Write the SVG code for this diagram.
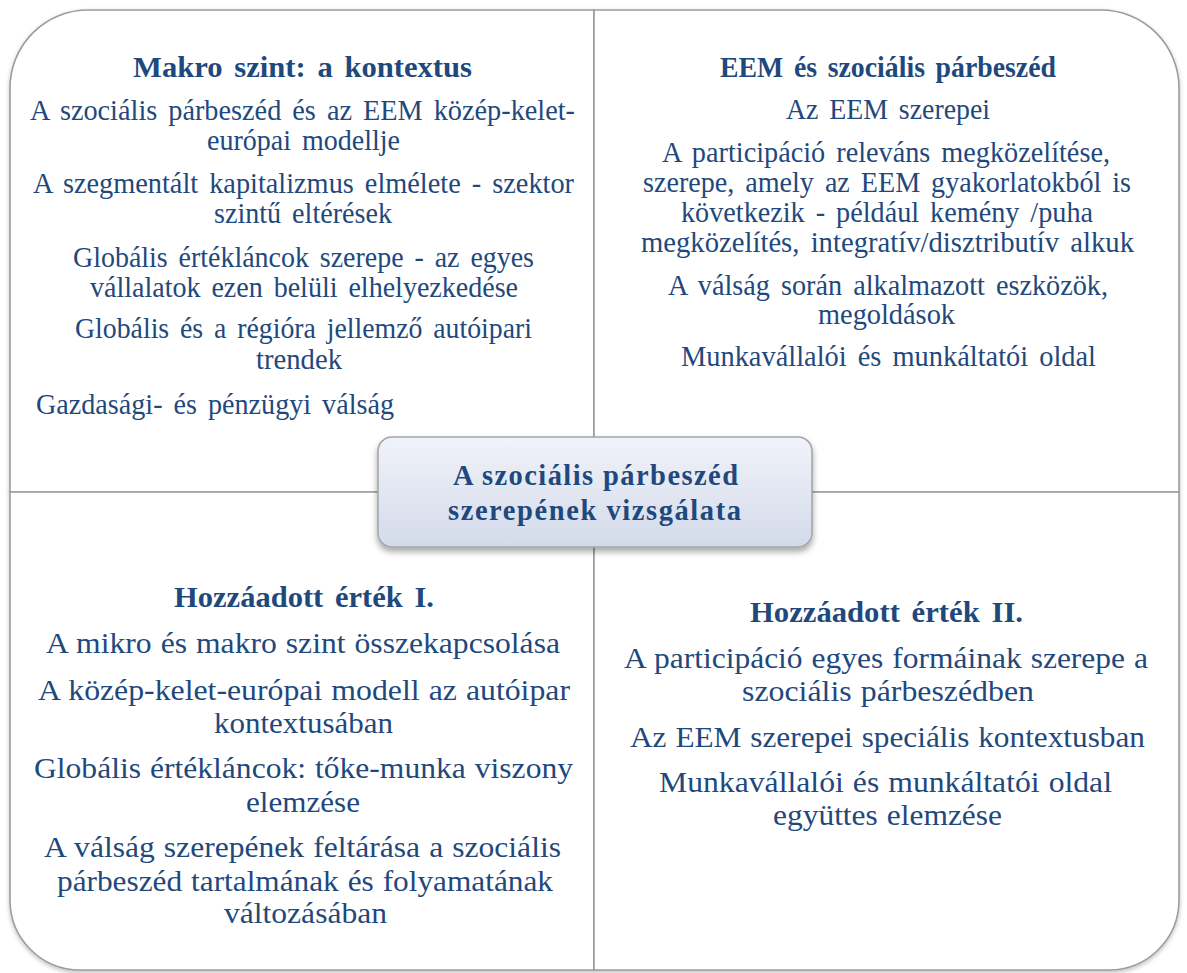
<svg xmlns="http://www.w3.org/2000/svg" width="1187" height="973" viewBox="0 0 1187 973">
  <style>
    .quad { fill: #ffffff; stroke: #9c9c9c; stroke-width: 1.6; }
    .t { font-family: "Liberation Serif", "Times New Roman", serif; fill: #1F497D; text-anchor: middle; }
    .h { font-size: 30px; font-weight: bold; word-spacing: 4px; }
    .b { font-size: 28.5px; word-spacing: 4px; }
    .bl { font-size: 28.5px; word-spacing: 1px; }
    .c { font-size: 28.5px; font-weight: bold; }
  </style>
  <defs>
    <filter id="outerShadow" x="-5%" y="-5%" width="110%" height="110%">
      <feDropShadow dx="0" dy="2" stdDeviation="2" flood-color="#000000" flood-opacity="0.25"/>
    </filter>
    <filter id="boxShadow" x="-10%" y="-20%" width="120%" height="150%">
      <feDropShadow dx="0" dy="4" stdDeviation="3" flood-color="#000000" flood-opacity="0.35"/>
    </filter>
    <linearGradient id="boxFill" x1="0" y1="0" x2="0" y2="1">
      <stop offset="0" stop-color="#f1f3f9"/>
      <stop offset="1" stop-color="#d3daea"/>
    </linearGradient>
  </defs>

  <g id="quadrants" filter="url(#outerShadow)">
    <g id="q-macro">
      <path class="quad" d="M10,492 V88 A78,78 0 0 1 88,10 H594 V492 Z"/>
    </g>
    <g id="q-eem">
      <path class="quad" d="M594,10 H1101 A78,78 0 0 1 1179,88 V492 H594 Z"/>
    </g>
    <g id="q-value1">
      <path class="quad" d="M10,492 H594 V970 H80 A70,70 0 0 1 10,900 Z"/>
    </g>
    <g id="q-value2">
      <path class="quad" d="M594,492 H1179 V900 A70,70 0 0 1 1109,970 H594 Z"/>
    </g>
  </g>

  <g id="text-macro">
    <text class="t h" x="302.5" y="77" textLength="339" lengthAdjust="spacingAndGlyphs">Makro szint: a kontextus</text>
    <text class="t b" x="302.5" y="120" textLength="545" lengthAdjust="spacingAndGlyphs">A szociális párbeszéd és az EEM közép-kelet-</text>
    <text class="t b" x="303.5" y="150" textLength="193" lengthAdjust="spacingAndGlyphs">európai modellje</text>
    <text class="t b" x="303.5" y="193" textLength="541" lengthAdjust="spacingAndGlyphs">A szegmentált kapitalizmus elmélete - szektor</text>
    <text class="t b" x="303" y="223" textLength="178" lengthAdjust="spacingAndGlyphs">szintű eltérések</text>
    <text class="t b" x="303.5" y="267" textLength="461" lengthAdjust="spacingAndGlyphs">Globális értékláncok szerepe - az egyes</text>
    <text class="t b" x="304" y="297" textLength="428" lengthAdjust="spacingAndGlyphs">vállalatok ezen belüli elhelyezkedése</text>
    <text class="t b" x="303.5" y="338" textLength="457" lengthAdjust="spacingAndGlyphs">Globális és a régióra jellemző autóipari</text>
    <text class="t b" x="299" y="369" textLength="86" lengthAdjust="spacingAndGlyphs">trendek</text>
    <text class="t b" x="36" y="414" style="text-anchor:start" textLength="358" lengthAdjust="spacingAndGlyphs">Gazdasági- és pénzügyi válság</text>
  </g>

  <g id="text-eem">
    <text class="t h" x="888" y="77" textLength="336" lengthAdjust="spacingAndGlyphs">EEM és szociális párbeszéd</text>
    <text class="t b" x="888" y="119" textLength="204" lengthAdjust="spacingAndGlyphs">Az EEM szerepei</text>
    <text class="t b" x="886" y="162" textLength="448" lengthAdjust="spacingAndGlyphs">A participáció releváns megközelítése,</text>
    <text class="t b" x="887" y="192" textLength="488" lengthAdjust="spacingAndGlyphs">szerepe, amely az EEM gyakorlatokból is</text>
    <text class="t b" x="887" y="222" textLength="412" lengthAdjust="spacingAndGlyphs">következik - például kemény /puha</text>
    <text class="t b" x="887.5" y="252" textLength="493" lengthAdjust="spacingAndGlyphs">megközelítés, integratív/disztributív alkuk</text>
    <text class="t b" x="888" y="295" textLength="440" lengthAdjust="spacingAndGlyphs">A válság során alkalmazott eszközök,</text>
    <text class="t b" x="886.5" y="324" textLength="137" lengthAdjust="spacingAndGlyphs">megoldások</text>
    <text class="t b" x="888.5" y="366" textLength="415" lengthAdjust="spacingAndGlyphs">Munkavállalói és munkáltatói oldal</text>
  </g>

  <g id="text-value1">
    <text class="t h" x="304" y="607" textLength="260" lengthAdjust="spacingAndGlyphs">Hozzáadott érték I.</text>
    <text class="t bl" x="303" y="653" textLength="514" lengthAdjust="spacingAndGlyphs">A mikro és makro szint összekapcsolása</text>
    <text class="t bl" x="304" y="700" textLength="532" lengthAdjust="spacingAndGlyphs">A közép-kelet-európai modell az autóipar</text>
    <text class="t bl" x="303.5" y="733" textLength="179" lengthAdjust="spacingAndGlyphs">kontextusában</text>
    <text class="t bl" x="303.5" y="778" textLength="539" lengthAdjust="spacingAndGlyphs">Globális értékláncok: tőke-munka viszony</text>
    <text class="t bl" x="303" y="812" textLength="114" lengthAdjust="spacingAndGlyphs">elemzése</text>
    <text class="t bl" x="302.5" y="857" textLength="517" lengthAdjust="spacingAndGlyphs">A válság szerepének feltárása a szociális</text>
    <text class="t bl" x="305" y="891" textLength="496" lengthAdjust="spacingAndGlyphs">párbeszéd tartalmának és folyamatának</text>
    <text class="t bl" x="305.5" y="923" textLength="163" lengthAdjust="spacingAndGlyphs">változásában</text>
  </g>

  <g id="text-value2">
    <text class="t h" x="886.5" y="622" textLength="273" lengthAdjust="spacingAndGlyphs">Hozzáadott érték II.</text>
    <text class="t bl" x="886" y="668" textLength="524" lengthAdjust="spacingAndGlyphs">A participáció egyes formáinak szerepe a</text>
    <text class="t bl" x="888" y="701" textLength="292" lengthAdjust="spacingAndGlyphs">szociális párbeszédben</text>
    <text class="t bl" x="887.5" y="747" textLength="515" lengthAdjust="spacingAndGlyphs">Az EEM szerepei speciális kontextusban</text>
    <text class="t bl" x="885.5" y="792" textLength="453" lengthAdjust="spacingAndGlyphs">Munkavállalói és munkáltatói oldal</text>
    <text class="t bl" x="887.5" y="825" textLength="229" lengthAdjust="spacingAndGlyphs">együttes elemzése</text>
  </g>

  <g id="center">
    <rect x="378" y="437" width="434" height="110" rx="14" ry="14" fill="url(#boxFill)" stroke="#a4a6ac" stroke-width="1.6" filter="url(#boxShadow)"/>
    <text class="t c" x="595.5" y="485" textLength="285" lengthAdjust="spacing">A szociális párbeszéd</text>
    <text class="t c" x="594.5" y="520" textLength="293" lengthAdjust="spacing">szerepének vizsgálata</text>
  </g>
</svg>
